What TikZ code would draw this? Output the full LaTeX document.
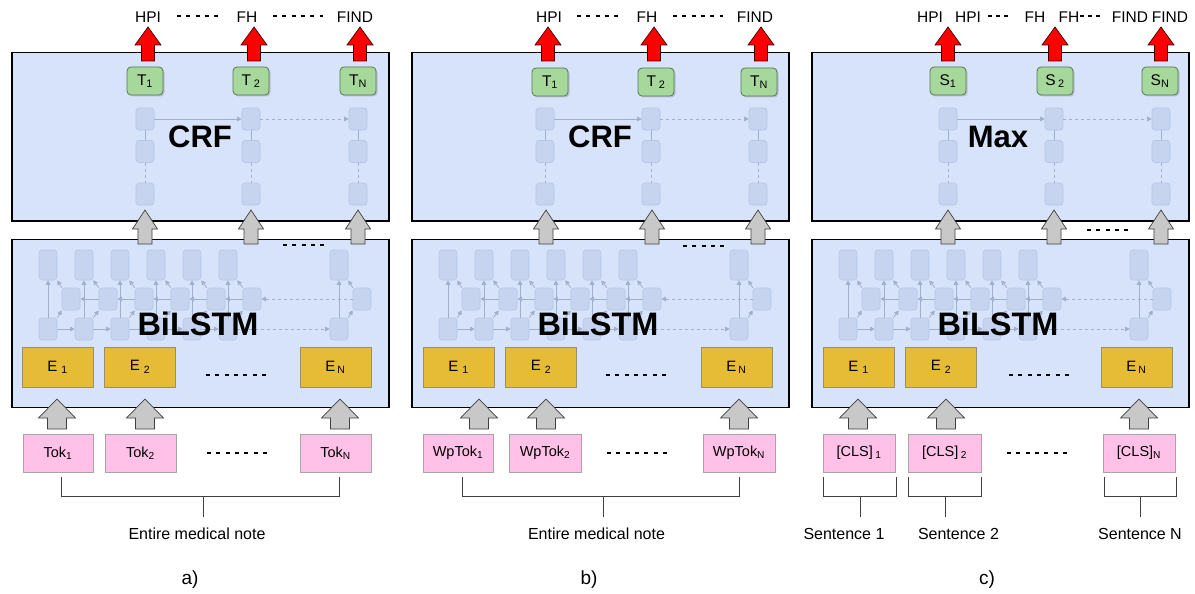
\documentclass[tikz,border=0pt]{standalone}
\usepackage{fontspec}
\setmainfont{Liberation Sans}
\usetikzlibrary{arrows.meta,shadows}
\definecolor{panelbg}{HTML}{D6E3FA}
\definecolor{ghostfill}{HTML}{C6D4EF}
\definecolor{ghostdraw}{HTML}{B6C6E4}
\definecolor{ghostarrow}{HTML}{A0AFCB}
\definecolor{embfill}{HTML}{E6BB35}
\definecolor{embdraw}{HTML}{9A8E6E}
\definecolor{tokfill}{HTML}{FFC1E7}
\definecolor{tokdraw}{HTML}{A5A5A5}
\definecolor{tagfill}{HTML}{A6D79B}
\definecolor{tagdraw}{HTML}{5C7658}
\definecolor{arrowgray}{HTML}{C8C8C8}
\tikzset{
  panel/.style={draw=black, line width=1.5pt, fill=panelbg, inner sep=0pt, anchor=north west, minimum width=377pt, minimum height=168pt},
  ghost/.style={draw=ghostdraw, fill=ghostfill, rounded corners=3pt, line width=0.6pt, minimum width=18pt, inner sep=0pt},
  ghostsq/.style={ghost, minimum height=22pt},
  ghosttall/.style={ghost, minimum height=30pt},
  garrow/.style={draw=ghostarrow, line width=0.8pt, -{Triangle[length=4.5pt,width=4.5pt]}},
  gline/.style={draw=ghostarrow, line width=0.8pt},
  emb/.style={draw=embdraw, fill=embfill, line width=0.8pt, minimum width=71pt, minimum height=40pt, inner sep=0pt, font=\fontsize{15}{15}\selectfont},
  tok/.style={draw=tokdraw, fill=tokfill, line width=0.8pt, minimum height=38pt, inner sep=0pt, font=\fontsize{14.5}{14.5}\selectfont},
  tag/.style={draw=tagdraw, fill=tagfill, rounded corners=4pt, line width=0.8pt, minimum width=36pt, minimum height=28pt, inner sep=0pt, font=\fontsize{15.5}{15.5}\selectfont, drop shadow={shadow xshift=1.5pt, shadow yshift=-1.5pt, opacity=0.35}},
  outlabel/.style={font=\fontsize{15.5}{16}\selectfont, inner sep=0pt},
  biglabel/.style={font=\fontsize{31}{31}\selectfont\bfseries, inner sep=0pt},
  lstmlabel/.style={font=\fontsize{32.5}{32.5}\selectfont\bfseries, inner sep=0pt},
  notelabel/.style={font=\fontsize{16}{16}\selectfont, inner sep=0pt},
  panellabel/.style={font=\fontsize{19}{19}\selectfont, inner sep=0pt},
  dotline/.style={line width=1.5pt, dash pattern=on 4pt off 5.3pt},
  blockred/.style={fill=red, draw=black!75!red, line width=0.7pt},
  blockgray/.style={fill=arrowgray, draw=black!75, line width=0.7pt},
  bracketline/.style={draw=black!75, line width=0.8pt},
}
\newcommand{\myblockarrow}[7]{%
  \draw[#1] (#2,#3) -- ({#2+#6},#4) -- ({#2+#7},#4) -- ({#2+#7},#5) -- ({#2-#7},#5) -- ({#2-#7},#4) -- ({#2-#6},#4) -- cycle;}
\begin{document}
\begin{tikzpicture}[x=1pt,y=-1pt]
\useasboundingbox (0,0) rectangle (1195,594);
\fill[white] (0,0) rectangle (1195,594);

% ---------- common structure of the three panels ----------
\foreach \p/\ox/\xa/\xb/\xc in {a/0/145/251/358, b/400/145/251/358, c/800/148/254/361}{
  \begin{scope}[xshift=\ox pt]
    \node[panel] (\p-dec) at (11,52) {};
    \node[panel] (\p-enc) at (11,238.5) {};
    % faint decoder lattice
    \foreach \k/\x in {1/\xa,2/\xb,3/\xc}{
      \node[ghostsq] (\p-r1-\k) at (\x,119) {};
      \node[ghostsq] (\p-r2-\k) at (\x,151.5) {};
      \node[ghostsq] (\p-r3-\k) at (\x,194) {};
      \draw[gline] (\p-r1-\k) -- (\p-r2-\k);
      \draw[gline, dashed] (\p-r2-\k) -- (\p-r3-\k);
    }
    \draw[garrow] (\p-r1-1) -- (\p-r1-2);
    \draw[garrow, dashed] (\p-r1-2) -- (\p-r1-3);
    % faint BiLSTM lattice
    \foreach \i/\bx/\mx in {1/48/71,2/84/108,3/120/144,4/156/180,5/192/216,6/228/252,7/339/362}{
      \node[ghosttall] (\p-t-\i) at (\bx,265) {};
      \node[ghostsq] (\p-m-\i) at (\mx,299) {};
      \node[ghostsq] (\p-b-\i) at (\bx,329) {};
    }
    \foreach \i in {1,...,7}{
      \draw[garrow] (\p-b-\i) -- (\p-t-\i);
      \draw[garrow] (\p-b-\i.north east) -- (\p-m-\i.south west);
      \draw[garrow] (\p-m-\i.north west) -- (\p-t-\i.south east);
    }
    \foreach \i/\j in {1/2,2/3,3/4,4/5,5/6}{
      \draw[garrow] (\p-b-\i) -- (\p-b-\j);
      \draw[garrow] (\p-m-\j) -- (\p-m-\i);
    }
    \draw[garrow, dashed] (\p-b-6) -- (\p-b-7);
    \draw[garrow, dashed] (\p-m-7) -- (\p-m-6);
  \end{scope}
}

% ---------- big labels ----------
\node[biglabel] (a-crf) at (200,137) {CRF};
\node[biglabel] (b-crf) at (600,137) {CRF};
\node[biglabel] (c-max) at (998,137) {Max};
\node[lstmlabel] (a-bilstm) at (198,324) {BiLSTM};
\node[lstmlabel] (b-bilstm) at (598,324) {BiLSTM};
\node[lstmlabel] (c-bilstm) at (998,324) {BiLSTM};

% ---------- tag nodes ----------
\node[tag] (a-t1) at (145,81) {T\textsubscript{1}};
\node[tag] (a-t2) at (251,81) {T\,\textsubscript{2}};
\node[tag] (a-tn) at (358,81) {T\textsubscript{N}};
\node[tag] (b-t1) at (550,82) {T\textsubscript{1}};
\node[tag] (b-t2) at (656,82) {T\,\textsubscript{2}};
\node[tag] (b-tn) at (759,82) {T\textsubscript{N}};
\node[tag] (c-s1) at (948,81) {S\textsubscript{1}};
\node[tag] (c-s2) at (1055,81) {S\,\textsubscript{2}};
\node[tag] (c-sn) at (1160,81) {S\textsubscript{N}};

% ---------- red output arrows ----------
\foreach \x in {148,254,360,548,654,761,948,1055,1161}{
  \myblockarrow{blockred}{\x}{27}{45}{61}{13}{6.5}
}

% ---------- grey arrows encoder -> decoder ----------
\foreach \x in {145,251,358,546,652,758,948,1054,1161}{
  \myblockarrow{blockgray}{\x}{210}{229}{244}{12.5}{7}
}

% ---------- output labels ----------
\node[outlabel] (a-hpi) at (148,17) {HPI};
\node[outlabel] (a-fh) at (247,17) {FH};
\node[outlabel] (a-find) at (355,17) {FIND};
\draw[dotline] (177,16) -- (219,16);
\draw[dotline] (273,16) -- (323,16);
\node[outlabel] (b-hpi) at (549,17) {HPI};
\node[outlabel] (b-fh) at (647,17) {FH};
\node[outlabel] (b-find) at (755,17) {FIND};
\draw[dotline] (577,16) -- (619,16);
\draw[dotline] (673,16) -- (723,16);
\node[outlabel] (c-hpi1) at (930,17) {HPI};
\node[outlabel] (c-hpi2) at (968,17) {HPI};
\node[outlabel] (c-fh1) at (1035,17) {FH};
\node[outlabel] (c-fh2) at (1069,17) {FH};
\node[outlabel] (c-find1) at (1130,17) {FIND};
\node[outlabel] (c-find2) at (1170,17) {FIND};
\draw[dotline, dash pattern=on 4pt off 4pt] (988,16) -- (1008,16);
\draw[dotline, dash pattern=on 4pt off 4pt] (1080,16) -- (1102,16);

% ---------- dots between encoder arrows ----------
\draw[dotline] (283,245) -- (324,245);
\draw[dotline] (683,246) -- (724,246);
\draw[dotline] (1087,230) -- (1128,230);

% ---------- embeddings ----------
\node[emb] (a-e1) at (57.5,367) {E\hspace{4pt}\textsubscript{1}};
\node[emb] (a-e2) at (140,367) {E\hspace{4pt}\textsubscript{2}};
\node[emb] (a-en) at (335.5,367) {E\hspace{2pt}\textsubscript{N}};
\node[emb] (b-e1) at (458.5,367) {E\hspace{4pt}\textsubscript{1}};
\node[emb] (b-e2) at (541,367) {E\hspace{4pt}\textsubscript{2}};
\node[emb] (b-en) at (736.5,367) {E\hspace{2pt}\textsubscript{N}};
\node[emb] (c-e1) at (858.5,367) {E\hspace{4pt}\textsubscript{1}};
\node[emb] (c-e2) at (941,367) {E\hspace{4pt}\textsubscript{2}};
\node[emb] (c-en) at (1136.5,367) {E\hspace{2pt}\textsubscript{N}};
\draw[dotline] (206,375) -- (266,375);
\draw[dotline] (606,375) -- (666,375);
\draw[dotline] (1009,375) -- (1069,375);

% ---------- grey arrows input -> encoder ----------
\foreach \x in {57,145,340,479,546,739,858,946,1139}{
  \myblockarrow{blockgray}{\x}{399}{418}{429}{18.5}{9.5}
}

% ---------- inputs ----------
\node[tok, minimum width=70pt] (a-k1) at (58,453) {Tok\textsubscript{1}};
\node[tok, minimum width=71pt] (a-k2) at (140.5,453) {Tok\textsubscript{2}};
\node[tok, minimum width=71pt] (a-kn) at (335.5,453) {Tok\textsubscript{N}};
\node[tok, minimum width=70pt] (b-k1) at (458,453) {WpTok\textsubscript{1}};
\node[tok, minimum width=72pt] (b-k2) at (545,453) {WpTok\textsubscript{2}};
\node[tok, minimum width=72pt] (b-kn) at (739,453) {WpTok\textsubscript{N}};
\node[tok, minimum width=72pt] (c-k1) at (859,453) {[CLS]\,\textsubscript{1}};
\node[tok, minimum width=73pt] (c-k2) at (944.5,453) {[CLS]\,\textsubscript{2}};
\node[tok, minimum width=72pt] (c-kn) at (1139,453) {[CLS]\textsubscript{N}};
\draw[dotline] (207,453) -- (267,453);
\draw[dotline] (607,453) -- (667,453);
\draw[dotline] (1007,453) -- (1067,453);

% ---------- brackets and notes ----------
\node[notelabel] (a-note) at (197,534) {Entire medical note};
\node[notelabel] (b-note) at (596.5,534) {Entire medical note};
\draw[bracketline] (61,477) |- (339,496) -- (339,477);
\draw[bracketline] (203,496) -- (203,517);
\draw[bracketline] (462,477) |- (739,496) -- (739,477);
\draw[bracketline] (603,496) -- (603,517);

\node[notelabel] (c-sent1) at (844,534) {Sentence 1};
\node[notelabel] (c-sent2) at (958.5,534) {Sentence 2};
\node[notelabel] (c-sentn) at (1140,534) {Sentence N};
\draw[bracketline] (823,477) |- (896,496) -- (896,477);
\draw[bracketline] (860,496) -- (860,517);
\draw[bracketline] (908,477) |- (981,496) -- (981,477);
\draw[bracketline] (945,496) -- (945,517);
\draw[bracketline] (1104,477) |- (1176,496) -- (1176,477);
\draw[bracketline] (1140,496) -- (1140,517);

% ---------- panel captions ----------
\node[panellabel] (cap-a) at (190,580) {a)};
\node[panellabel] (cap-b) at (589,580) {b)};
\node[panellabel] (cap-c) at (987,580) {c)};
\end{tikzpicture}
\end{document}
